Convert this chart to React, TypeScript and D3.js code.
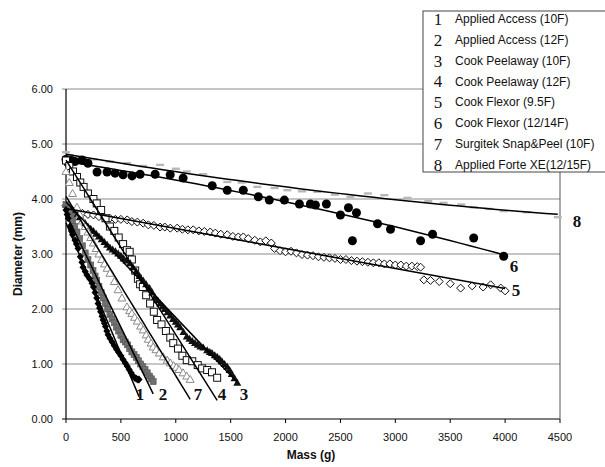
import React from "react";
import * as d3 from "d3";

const massTicks = [0, 500, 1000, 1500, 2000, 2500, 3000, 3500, 4000, 4500];
const diamTicks = [0, 1, 2, 3, 4, 5, 6];
const legendNames = [
  "Applied Access (10F)",
  "Applied Access (12F)",
  "Cook Peelaway (10F)",
  "Cook Peelaway (12F)",
  "Cook Flexor (9.5F)",
  "Cook Flexor (12/14F)",
  "Surgitek Snap&Peel (10F)",
  "Applied Forte XE(12/15F)",
];

// [mass g, diameter mm]
const appliedAccess10: [number, number][] = [
  [0, 3.8], [10, 3.72], [20, 3.65], [36, 3.5], [50, 3.42], [60, 3.35], [82, 3.25], [95, 3.18], [110, 3.1], [130, 2.95],
  [145, 2.85], [155, 2.76], [175, 2.68], [190, 2.62], [215, 2.55], [237, 2.47], [250, 2.4], [265, 2.3], [280, 2.2],
  [292, 2.1], [305, 2.02], [315, 1.95], [328, 1.87], [338, 1.8], [350, 1.74], [360, 1.68], [372, 1.6], [383, 1.53],
  [400, 1.47], [420, 1.4], [440, 1.33], [460, 1.27], [480, 1.21], [500, 1.15], [520, 1.08], [540, 1.02], [558, 0.96],
  [575, 0.9], [593, 0.84], [611, 0.78], [625, 0.75], [640, 0.73], [655, 0.72], [665, 0.72],
];
const appliedAccess12: [number, number][] = [
  [0, 3.9], [15, 3.82], [30, 3.75], [45, 3.68], [60, 3.6], [80, 3.5], [100, 3.4], [125, 3.28], [150, 3.15], [175, 3.02],
  [200, 2.9], [225, 2.8], [246, 2.7], [265, 2.6], [280, 2.52], [300, 2.41], [320, 2.3], [340, 2.2], [360, 2.1], [380, 2.0],
  [400, 1.9], [420, 1.82], [440, 1.75], [460, 1.67], [480, 1.6], [500, 1.52], [520, 1.44], [540, 1.4], [560, 1.35],
  [580, 1.28], [600, 1.22], [620, 1.17], [640, 1.12], [660, 1.06], [680, 1.0], [700, 0.95], [720, 0.9], [740, 0.84],
  [760, 0.78], [778, 0.73], [794, 0.68],
];
const cookPeelaway10: [number, number][] = [
  [0, 3.9], [30, 3.85], [60, 3.8], [100, 3.72], [125, 3.67], [150, 3.62], [175, 3.56], [200, 3.5], [225, 3.46], [250, 3.42],
  [275, 3.37], [300, 3.32], [325, 3.27], [350, 3.22], [375, 3.17], [400, 3.12], [425, 3.08], [450, 3.05], [475, 3.01],
  [500, 2.97], [525, 2.92], [550, 2.88], [584, 2.83], [610, 2.76], [640, 2.68], [670, 2.6], [703, 2.52], [730, 2.45],
  [760, 2.38], [785, 2.3], [810, 2.22], [835, 2.16], [857, 2.1], [880, 2.05], [900, 2.0], [925, 1.94], [950, 1.88],
  [975, 1.82], [1000, 1.77], [1020, 1.72], [1040, 1.67], [1070, 1.58], [1100, 1.5], [1125, 1.46], [1150, 1.42],
  [1175, 1.38], [1200, 1.35], [1225, 1.32], [1250, 1.3], [1286, 1.25], [1310, 1.22], [1330, 1.2], [1355, 1.16],
  [1377, 1.13], [1400, 1.09], [1420, 1.05], [1445, 1.0], [1469, 0.95], [1490, 0.89], [1510, 0.82], [1535, 0.74], [1560, 0.66],
];
const cookPeelaway12: [number, number][] = [
  [0, 4.7], [30, 4.6], [64, 4.5], [100, 4.4], [130, 4.3], [160, 4.22], [200, 4.1], [250, 4.0], [280, 3.92], [320, 3.8],
  [360, 3.65], [400, 3.5], [440, 3.42], [480, 3.3], [520, 3.18], [555, 3.07], [580, 3.04], [600, 2.9], [630, 2.7],
  [655, 2.55], [675, 2.45], [700, 2.4], [730, 2.25], [766, 2.1], [800, 1.95], [830, 1.8], [870, 1.72], [910, 1.6],
  [950, 1.48], [977, 1.38], [1020, 1.28], [1060, 1.15], [1100, 1.07], [1150, 1.05], [1200, 0.98], [1240, 0.92],
  [1286, 0.89], [1330, 0.85], [1377, 0.75],
];
const cookFlexor95: [number, number][] = [
  [0, 3.88], [50, 3.8], [100, 3.76], [150, 3.74], [200, 3.72], [250, 3.71], [300, 3.68], [350, 3.66], [400, 3.65],
  [450, 3.63], [500, 3.63], [557, 3.62], [600, 3.59], [650, 3.58], [703, 3.56], [750, 3.53], [800, 3.52], [857, 3.49],
  [900, 3.49], [950, 3.47], [1013, 3.47], [1060, 3.45], [1110, 3.44], [1159, 3.44], [1210, 3.42], [1260, 3.41],
  [1314, 3.4], [1360, 3.38], [1410, 3.36], [1469, 3.35], [1520, 3.32], [1570, 3.31], [1615, 3.31], [1660, 3.28],
  [1720, 3.25], [1770, 3.22], [1820, 3.24], [1870, 3.2], [1900, 3.1], [1950, 3.06], [2000, 3.04], [2050, 3.05],
  [2100, 3.02], [2150, 2.99], [2200, 2.98], [2250, 2.97], [2300, 2.95], [2350, 2.94], [2400, 2.93], [2450, 2.92],
  [2500, 2.9], [2550, 2.9], [2600, 2.88], [2650, 2.87], [2700, 2.86], [2750, 2.85], [2800, 2.84], [2850, 2.84],
  [2900, 2.82], [2950, 2.82], [3000, 2.8], [3050, 2.8], [3100, 2.78], [3150, 2.78], [3200, 2.77], [3230, 2.76],
  [3260, 2.53], [3320, 2.52], [3400, 2.5], [3500, 2.46], [3595, 2.38], [3700, 2.42], [3800, 2.4], [3868, 2.44],
  [3960, 2.38], [4000, 2.33],
];
const cookFlexor1214: [number, number][] = [
  [0, 4.72], [20, 4.65], [50, 4.7], [80, 4.68], [146, 4.71], [200, 4.65], [283, 4.49], [374, 4.49], [447, 4.47],
  [520, 4.44], [602, 4.42], [675, 4.45], [812, 4.45], [949, 4.44], [1067, 4.38], [1332, 4.24], [1469, 4.16],
  [1615, 4.16], [1752, 4.04], [1852, 3.98], [1989, 3.98], [2126, 3.91], [2226, 3.91], [2272, 3.89], [2372, 3.91],
  [2500, 3.71], [2573, 3.84], [2609, 3.24], [2646, 3.75], [2838, 3.55], [2956, 3.45], [3230, 3.24], [3339, 3.36],
  [3714, 3.29], [3987, 2.96],
];
const surgitek10: [number, number][] = [
  [0, 4.5], [30, 4.3], [60, 4.1], [100, 3.85], [125, 3.72], [150, 3.6], [175, 3.5], [200, 3.4], [225, 3.3], [250, 3.2],
  [275, 3.1], [300, 3.0], [325, 2.9], [350, 2.82], [375, 2.74], [400, 2.65], [440, 2.5], [474, 2.35], [510, 2.2],
  [555, 2.04], [580, 1.97], [600, 1.92], [625, 1.85], [650, 1.78], [680, 1.69], [703, 1.62], [730, 1.53], [750, 1.45],
  [775, 1.38], [794, 1.31], [820, 1.26], [850, 1.2], [885, 1.13], [922, 1.07], [950, 1.02], [980, 0.97], [1005, 0.94],
  [1030, 0.9], [1067, 0.84], [1100, 0.78], [1131, 0.72],
];
const appliedForte: [number, number][] = [
  [0, 4.85], [10, 4.78], [30, 4.8], [100, 4.75], [250, 4.72], [400, 4.68], [557, 4.65], [700, 4.6], [857, 4.62],
  [1000, 4.55], [1100, 4.5], [1250, 4.45], [1469, 4.31], [1600, 4.3], [1743, 4.22], [1900, 4.2], [2016, 4.16],
  [2150, 4.14], [2290, 4.13], [2450, 4.08], [2591, 4.04], [2750, 4.1], [2900, 4.07], [3111, 4.02], [3300, 3.96],
  [3440, 3.93], [3600, 3.9], [3714, 3.85], [3850, 3.82], [3987, 3.78], [4200, 3.76], [4480, 3.67],
];

type Marker = "diamondFill" | "squareFill" | "triFill" | "squareOpen" | "diamondOpen" | "circleFill" | "triOpen" | "dash";

const seriesList: { data: [number, number][]; marker: Marker; color: string; fit: 1 | 2; label: string }[] = [
  { data: appliedForte, marker: "dash", color: "#b8b8b8", fit: 2, label: "8" },
  { data: cookFlexor1214, marker: "circleFill", color: "#000", fit: 2, label: "6" },
  { data: cookFlexor95, marker: "diamondOpen", color: "#111", fit: 1, label: "5" },
  { data: cookPeelaway12, marker: "squareOpen", color: "#111", fit: 1, label: "4" },
  { data: cookPeelaway10, marker: "triFill", color: "#111", fit: 1, label: "3" },
  { data: surgitek10, marker: "triOpen", color: "#8a8a8a", fit: 1, label: "7" },
  { data: appliedAccess12, marker: "squareFill", color: "#707070", fit: 1, label: "2" },
  { data: appliedAccess10, marker: "diamondFill", color: "#000", fit: 1, label: "1" },
];

const endLabels: { label: string; x: number; y: number }[] = [
  { label: "8", x: 577, y: 227 },
  { label: "6", x: 514, y: 272 },
  { label: "5", x: 516, y: 296 },
  { label: "1", x: 140, y: 400 },
  { label: "2", x: 163, y: 400 },
  { label: "7", x: 198, y: 400 },
  { label: "4", x: 222, y: 400 },
  { label: "3", x: 244, y: 400 },
];

function polyFit(data: [number, number][], deg: 1 | 2): (x: number) => number {
  const n = deg + 1;
  const A: number[][] = Array.from({ length: n }, () => new Array(n + 1).fill(0));
  const sc = 1000;
  for (const [xr, y] of data) {
    const x = xr / sc;
    for (let i = 0; i < n; i++) {
      for (let j = 0; j < n; j++) A[i][j] += Math.pow(x, i + j);
      A[i][n] += y * Math.pow(x, i);
    }
  }
  for (let i = 0; i < n; i++) {
    let p = i;
    for (let r = i + 1; r < n; r++) if (Math.abs(A[r][i]) > Math.abs(A[p][i])) p = r;
    [A[i], A[p]] = [A[p], A[i]];
    for (let r = 0; r < n; r++) {
      if (r === i) continue;
      const f = A[r][i] / A[i][i];
      for (let c = i; c <= n; c++) A[r][c] -= f * A[i][c];
    }
  }
  const coef = A.map((row, i) => row[n] / row[i]);
  return (xr: number) => {
    const x = xr / sc;
    return coef.reduce((s, c, i) => s + c * Math.pow(x, i), 0);
  };
}

const W = 605;
const H = 467;
const x = d3.scaleLinear().domain([0, 4500]).range([66, 560]);
const y = d3.scaleLinear().domain([0, 6]).range([419, 89]);

function MarkerShape({ m, cx, cy, color }: { m: Marker; cx: number; cy: number; color: string }) {
  switch (m) {
    case "diamondFill":
      return <path d={`M${cx},${cy - 4}L${cx + 3.5},${cy}L${cx},${cy + 4}L${cx - 3.5},${cy}Z`} fill={color} />;
    case "diamondOpen":
      return <path d={`M${cx},${cy - 4}L${cx + 4},${cy}L${cx},${cy + 4}L${cx - 4},${cy}Z`} fill="#fff" stroke={color} strokeWidth={1} />;
    case "squareFill":
      return <rect x={cx - 3} y={cy - 3} width={6} height={6} fill={color} stroke="#555" strokeWidth={0.6} />;
    case "squareOpen":
      return <rect x={cx - 3.5} y={cy - 3.5} width={7} height={7} fill="#fff" stroke={color} strokeWidth={1} />;
    case "triFill":
      return <path d={`M${cx},${cy - 4}L${cx + 4},${cy + 3}L${cx - 4},${cy + 3}Z`} fill={color} />;
    case "triOpen":
      return <path d={`M${cx},${cy - 4}L${cx + 4},${cy + 3}L${cx - 4},${cy + 3}Z`} fill="#fff" stroke={color} strokeWidth={1} />;
    case "circleFill":
      return <circle cx={cx} cy={cy} r={4.5} fill={color} />;
    case "dash":
      return <rect x={cx - 4} y={cy - 1.2} width={8} height={2.4} fill={color} />;
  }
}

export default function App() {
  const line = d3.line<[number, number]>().x((d) => x(d[0])).y((d) => y(d[1]));
  const sans = "Arial, 'Liberation Sans', sans-serif";
  const serif = "'Times New Roman', 'Liberation Serif', serif";
  return (
    <svg width={W} height={H} style={{ position: "absolute", left: 0, top: 0, background: "#fff" }}>
      <rect width={W} height={H} fill="#fff" />
      {diamTicks.map((t) => (
        <line key={t} x1={62} x2={560} y1={y(t)} y2={y(t)} stroke={t === 0 ? "#000" : "#8c8c8c"} strokeWidth={t === 0 ? 1.2 : 1} />
      ))}
      <line x1={560} x2={560} y1={89} y2={419} stroke="#555" strokeWidth={1} />
      <line x1={66} x2={66} y1={89} y2={419} stroke="#000" strokeWidth={1.2} />
      {massTicks.map((t) => (
        <line key={t} x1={x(t)} x2={x(t)} y1={419} y2={423} stroke="#000" strokeWidth={1} />
      ))}
      {diamTicks.map((t) => (
        <text key={t} x={53} y={y(t)} dy="0.35em" textAnchor="end" fontFamily={sans} fontSize={11} fill="#111">
          {t.toFixed(2)}
        </text>
      ))}
      {massTicks.map((t) => (
        <text key={t} x={x(t)} y={441} textAnchor="middle" fontFamily={sans} fontSize={11} fill="#111">
          {t}
        </text>
      ))}
      <text x={311} y={459} textAnchor="middle" fontFamily={sans} fontSize={12} fontWeight="bold" fill="#111">
        Mass (g)
      </text>
      <text transform="translate(22,254) rotate(-90)" textAnchor="middle" fontFamily={sans} fontSize={12} fontWeight="bold" fill="#111">
        Diameter (mm)
      </text>
      {seriesList.map((s, si) => (
        <g key={si}>
          {s.data.map((d, i) => (
            <MarkerShape key={i} m={s.marker} cx={x(d[0])} cy={y(d[1])} color={s.color} />
          ))}
        </g>
      ))}
      {seriesList.map((s, si) => {
        const f = polyFit(s.data, s.fit);
        const [x0, x1] = d3.extent(s.data, (d) => d[0]) as [number, number];
        const pts: [number, number][] = d3.range(0, 41).map((k) => {
          const xv = x0 + ((x1 - x0) * k) / 40;
          return [xv, f(xv)];
        });
        return <path key={si} d={line(pts) || ""} fill="none" stroke="#000" strokeWidth={1.5} />;
      })}
      {endLabels.map((l) => (
        <text key={l.label} x={l.x} y={l.y} textAnchor="middle" fontFamily={serif} fontSize={17} fontWeight="bold" fill="#111">
          {l.label}
        </text>
      ))}
      <rect x={423} y={11} width={190} height={161} fill="#fff" stroke="#444" strokeWidth={1} />
      {legendNames.map((n, i) => (
        <g key={n} transform={`translate(0,${19 + i * 20.8})`}>
          <text x={438} y={0} dy="0.35em" textAnchor="middle" fontFamily={serif} fontSize={17} fill="#111">
            {i + 1}
          </text>
          <text x={455} y={0} dy="0.35em" fontFamily={sans} fontSize={12} fill="#111">
            {n}
          </text>
        </g>
      ))}
    </svg>
  );
}
